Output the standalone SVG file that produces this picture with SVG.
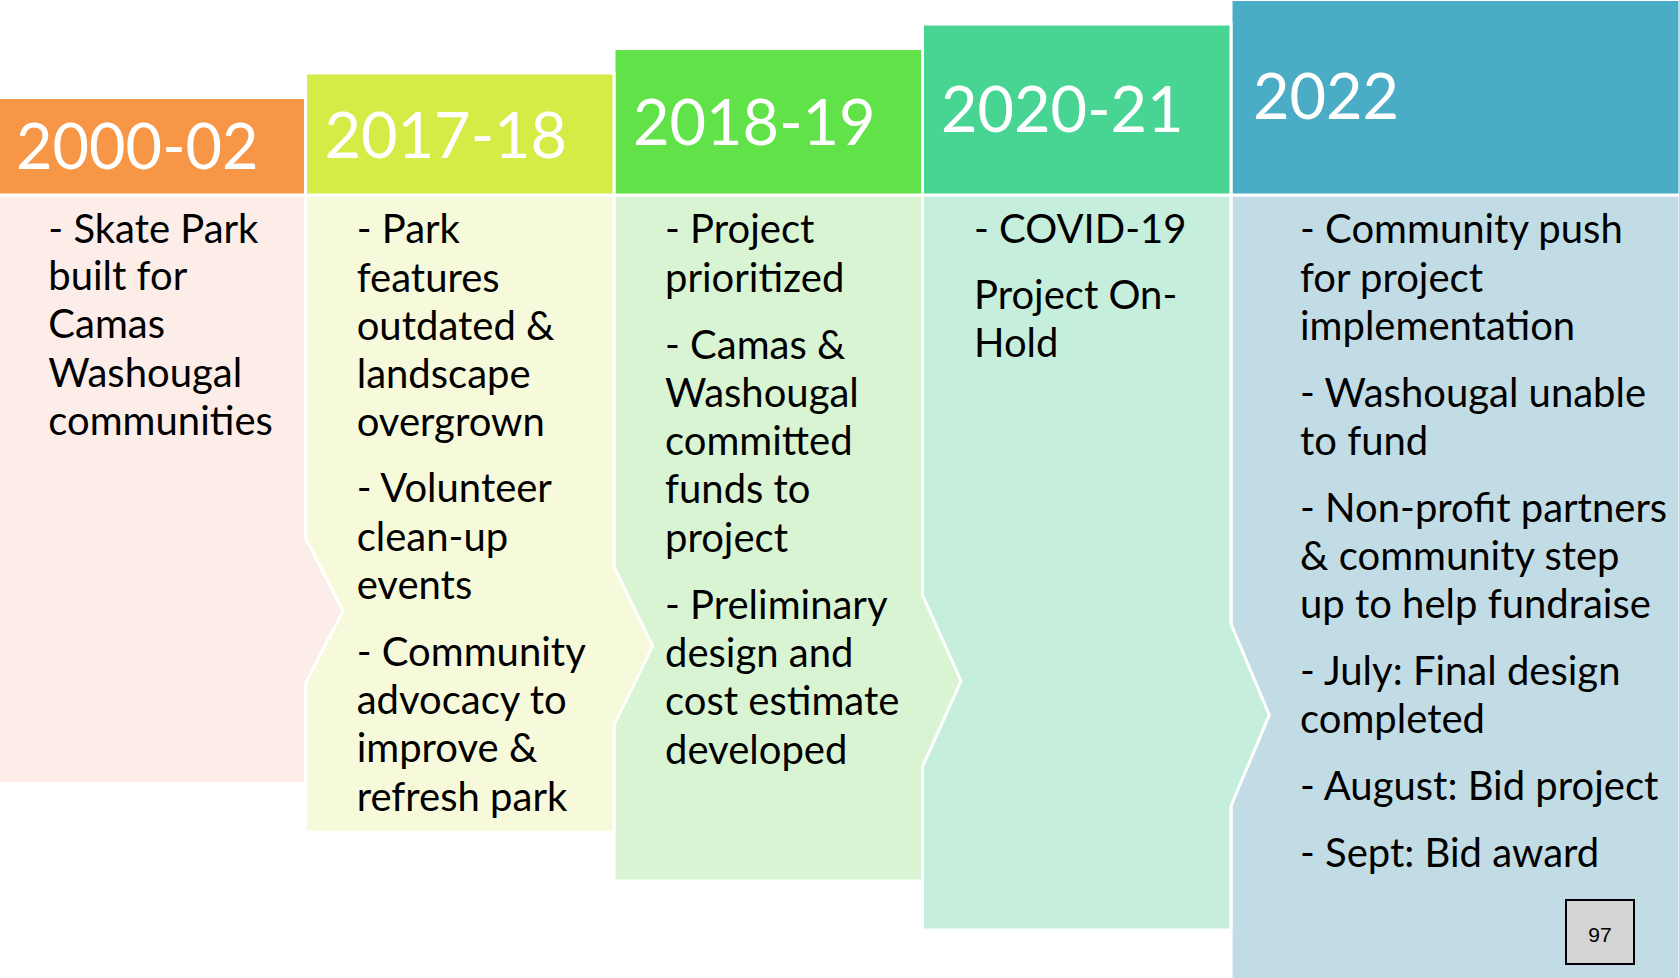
<svg xmlns="http://www.w3.org/2000/svg" width="1679" height="978" viewBox="0 0 1679 978">
<style>
.sh{stroke:#FFFFFF;stroke-width:3;stroke-linejoin:miter}
.hd{font-family:Lato,"Noto Sans",sans-serif;font-size:63px;fill:#FFFFFF}
.bt{font-family:Lato,"Noto Sans",sans-serif;font-size:40px;fill:#000000}
.pn{font-family:"Liberation Sans",Arial,sans-serif;font-size:21px;fill:#000000;text-anchor:middle}
</style>
<rect x="0" y="0" width="1679" height="978" fill="#FFFFFF"/>
<g id="col5">
<path class="sh" fill="#C2DCE5" d="M1231,195 H1680 V980 H1231 Z"/>
<rect class="sh" fill="#4BACC6" x="1231" y="-0.5" width="449" height="195.5"/>
<text class="hd" x="1253" y="119">2022</text>
<text class="bt" x="1300">
<tspan x="1300" y="243.3">- Community push</tspan>
<tspan x="1300" y="291.5">for project</tspan>
<tspan x="1300" y="339.7">implementation</tspan>
<tspan x="1300" y="407">- Washougal unable</tspan>
<tspan x="1300" y="455.2">to fund</tspan>
<tspan x="1300" y="522">- Non-profit partners</tspan>
<tspan x="1300" y="570.2">&amp; community step</tspan>
<tspan x="1300" y="618.4">up to help fundraise</tspan>
<tspan x="1300" y="685.2">- July: Final design</tspan>
<tspan x="1300" y="733.4">completed</tspan>
<tspan x="1300" y="800.2">- August: Bid project</tspan>
<tspan x="1300" y="867">- Sept: Bid award</tspan>
</text>
</g>
<g id="col4">
<path class="sh" fill="#C6EEDC" d="M922.5,195 H1231 V624 L1269.3,715 L1231,806 V930 H922.5 Z"/>
<rect class="sh" fill="#48D492" x="922.5" y="24" width="308.5" height="171"/>
<text class="hd" x="941" y="132">2020-21</text>
<text class="bt">
<tspan x="974" y="243.3">- COVID-19</tspan>
<tspan x="974" y="309">Project On-</tspan>
<tspan x="974" y="357.2">Hold</tspan>
</text>
</g>
<g id="col3">
<path class="sh" fill="#D9F4D3" d="M614,195 H922.5 V595 L961,681 L922.5,766.7 V881 H614 Z"/>
<rect class="sh" fill="#61E249" x="614" y="48.5" width="308.5" height="146.5"/>
<text class="hd" x="633" y="144.7">2018-19</text>
<text class="bt">
<tspan x="665" y="243.3">- Project</tspan>
<tspan x="665" y="291.5">prioritized</tspan>
<tspan x="665" y="358.8">- Camas &amp;</tspan>
<tspan x="665" y="407">Washougal</tspan>
<tspan x="665" y="455.2">committed</tspan>
<tspan x="665" y="503.4">funds to</tspan>
<tspan x="665" y="551.6">project</tspan>
<tspan x="665" y="618.9">- Preliminary</tspan>
<tspan x="665" y="667.1">design and</tspan>
<tspan x="665" y="715.3">cost estimate</tspan>
<tspan x="665" y="763.5">developed</tspan>
</text>
</g>
<g id="col2">
<path class="sh" fill="#F7F9DB" d="M305.5,195 H614 V566.7 L652.7,646 L614,725 V832.2 H305.5 Z"/>
<rect class="sh" fill="#D5EC47" x="305.5" y="73" width="308.5" height="122"/>
<text class="hd" x="324.5" y="157.6">2017-18</text>
<text class="bt">
<tspan x="356.7" y="243.3">- Park</tspan>
<tspan x="356.7" y="291.5">features</tspan>
<tspan x="356.7" y="339.7">outdated &amp;</tspan>
<tspan x="356.7" y="387.9">landscape</tspan>
<tspan x="356.7" y="436.1">overgrown</tspan>
<tspan x="356.7" y="502.3">- Volunteer</tspan>
<tspan x="356.7" y="550.5">clean-up</tspan>
<tspan x="356.7" y="598.7">events</tspan>
<tspan x="356.7" y="666">- Community</tspan>
<tspan x="356.7" y="714.2">advocacy to</tspan>
<tspan x="356.7" y="762.4">improve &amp;</tspan>
<tspan x="356.7" y="810.6">refresh park</tspan>
</text>
</g>
<g id="col1">
<path class="sh" fill="#FCEDE9" d="M-2,195 H305.5 V538 L343,611 L305.5,683 V783.2 H-2 Z"/>
<rect class="sh" fill="#F79646" x="-2" y="97.5" width="307.5" height="97.5"/>
<text class="hd" x="16" y="169.4">2000-02</text>
<text class="bt">
<tspan x="48.3" y="243.3">- Skate Park</tspan>
<tspan x="48.3" y="290">built for</tspan>
<tspan x="48.3" y="338.3">Camas</tspan>
<tspan x="48.3" y="386.7">Washougal</tspan>
<tspan x="48.3" y="435">communities</tspan>
</text>
</g>
<g id="page-number">
<rect x="1566" y="900" width="68" height="64" fill="#D4D4D4" stroke="#000000" stroke-width="2"/>
<text class="pn" x="1600" y="942">97</text>
</g>
</svg>
